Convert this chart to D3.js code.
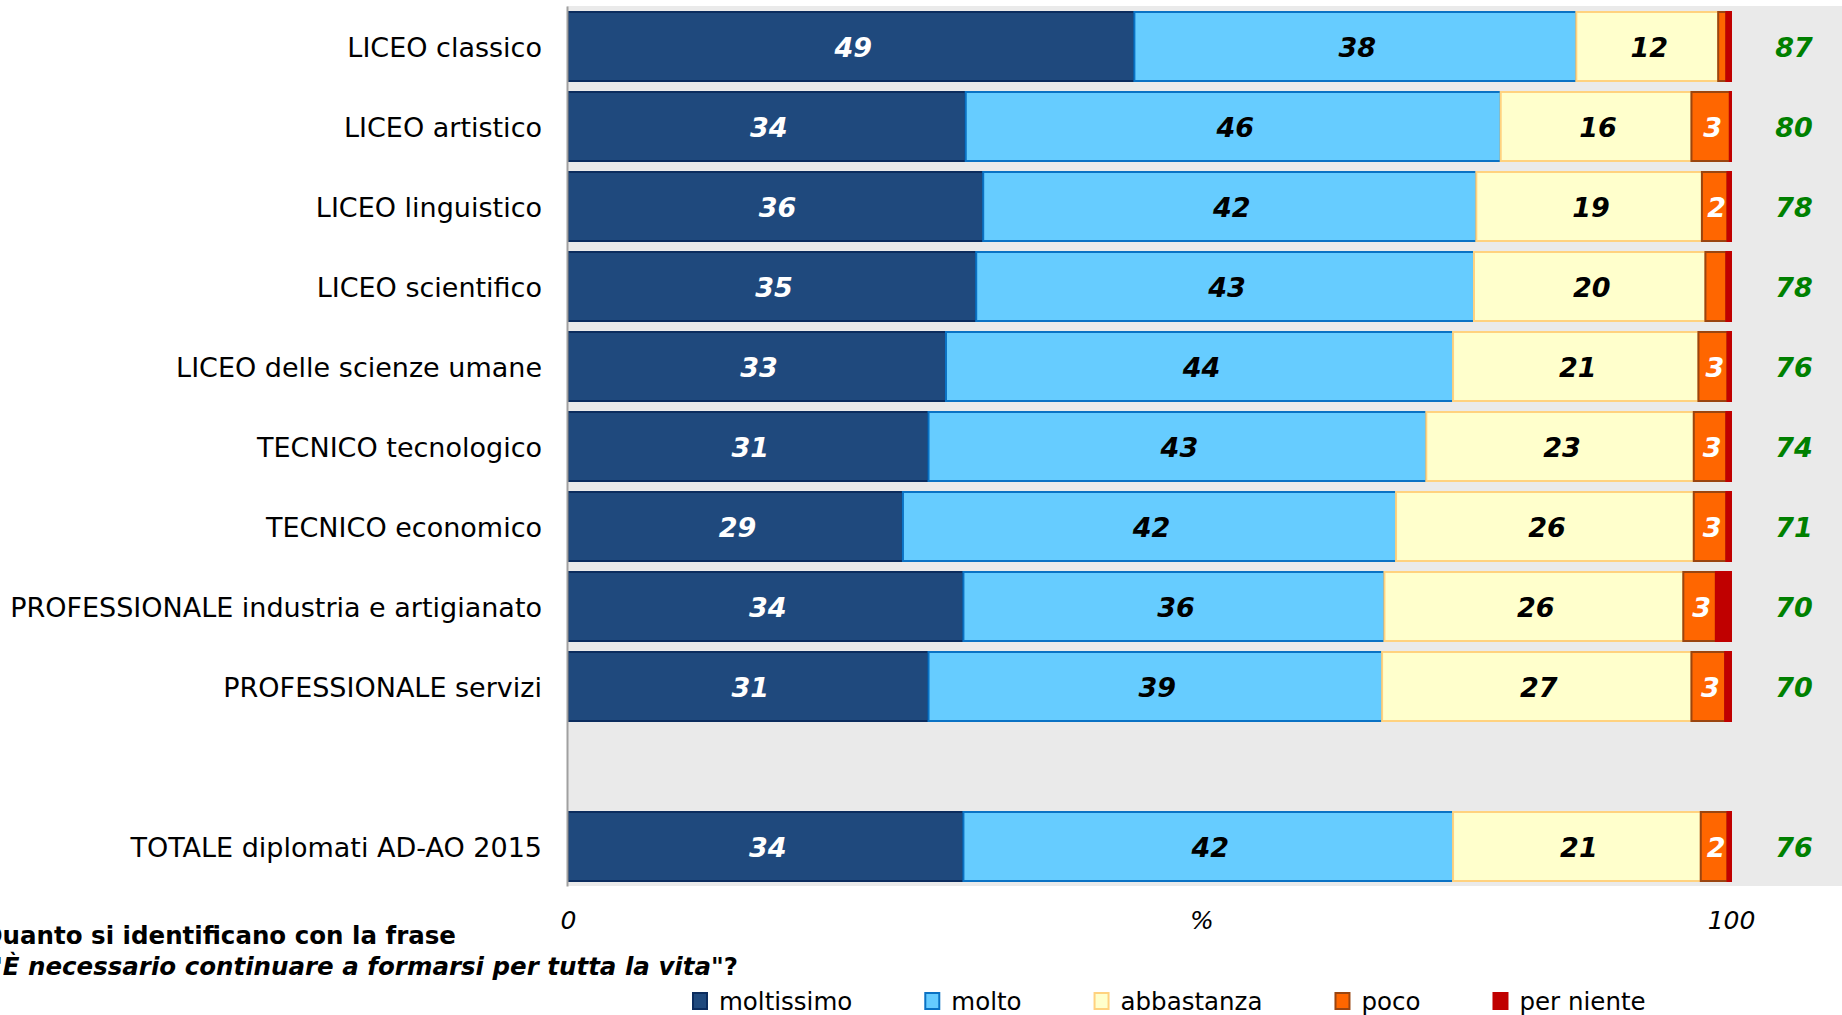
<!DOCTYPE html>
<html>
<head>
<meta charset="utf-8">
<script src="https://cdn.jsdelivr.net/npm/d3@7"></script>
<style>
  html, body { margin: 0; padding: 0; background: #ffffff; }
  svg { display: block; }
  text { font-family: "DejaVu Sans", Verdana, sans-serif; }
</style>
</head>
<body>
<svg id="chart" width="1842" height="1015"></svg>
<script>
// ---- data ----
const categories = [
  "LICEO classico",
  "LICEO artistico",
  "LICEO linguistico",
  "LICEO scientifico",
  "LICEO delle scienze umane",
  "TECNICO tecnologico",
  "TECNICO economico",
  "PROFESSIONALE industria e artigianato",
  "PROFESSIONALE servizi",
  "TOTALE diplomati AD-AO 2015"
];
const seriesNames = ["moltissimo", "molto", "abbastanza", "poco", "per niente"];
const moltissimo = [48.7, 34.2, 35.7, 35.1, 32.5, 31.0, 28.8, 34.0, 31.0, 34.0];
const molto      = [38.0, 46.0, 42.4, 42.8, 43.6, 42.8, 42.4, 36.2, 39.0, 42.1];
const abbastanza = [12.2, 16.4, 19.4, 19.9, 21.1, 23.0, 25.6, 25.7, 26.6, 21.3];
const poco       = [0.7, 3.3, 2.2, 1.8, 2.5, 2.8, 2.8, 2.8, 2.9, 2.3];
const perNiente  = [0.4, 0.1, 0.3, 0.4, 0.3, 0.4, 0.4, 1.3, 0.5, 0.3];
const totals     = [87, 80, 78, 78, 76, 74, 71, 70, 70, 76];
const xTicks = [0, 100];
const axisTitle = "%";
const titleLine1 = "Quanto si identificano con la frase";
const titleLine2 = "\"È necessario continuare a formarsi per tutta la vita";
const titleLine2End = "\"?";

// ---- styles ----
const fills   = ["#1F497D", "#66CCFF", "#FFFFCC", "#FF6600", "#C00000"];
const strokes = ["#0B2C5E", "#0A72C4", "#FFD27F", "#9A4510", "#C00000"];
const labelColors = ["#ffffff", "#000000", "#000000", "#ffffff", "#ffffff"];

const svg = d3.select("#chart");

const rows = categories.map((c, i) => ({
  cat: c,
  "moltissimo": moltissimo[i],
  "molto": molto[i],
  "abbastanza": abbastanza[i],
  "poco": poco[i],
  "per niente": perNiente[i],
  total: totals[i]
}));

const GAP = "__gap__";
const domain = categories.slice(0, 9).concat([GAP], categories.slice(9));

const plotLeft = 567, plotTop = 6, plotBottom = 886;
const x = d3.scaleLinear().domain([0, 100]).range([568, 1731]);
const y = d3.scaleBand().domain(domain).range([plotTop, plotBottom])
  .paddingInner(0.125).paddingOuter(0.0625);

// background panel
svg.append("rect")
  .attr("x", plotLeft).attr("y", plotTop)
  .attr("width", 1842 - plotLeft).attr("height", plotBottom - plotTop)
  .attr("fill", "#EAEAEA");

const stack = d3.stack().keys(seriesNames);
const stacked = stack(rows);

const g = svg.append("g");
stacked.forEach((layer, si) => {
  const lg = g.append("g");
  lg.selectAll("rect").data(layer).join("rect")
    .attr("x", d => x(d[0]))
    .attr("y", d => y(d.data.cat) + 1)
    .attr("width", d => Math.max(0, x(d[1]) - x(d[0])))
    .attr("height", y.bandwidth() - 1)
    .attr("fill", fills[si])
    .attr("stroke", strokes[si])
    .attr("stroke-width", 2);
});

// segment labels
stacked.forEach((layer, si) => {
  g.append("g").selectAll("text")
    .data(layer.filter(d => (d[1] - d[0]) >= 2))
    .join("text")
    .attr("x", d => (x(d[0]) + x(d[1])) / 2 + 2)
    .attr("y", d => y(d.data.cat) + y.bandwidth() / 2 + 1)
    .attr("text-anchor", "middle")
    .attr("dominant-baseline", "central")
    .attr("font-size", 27)
    .attr("font-weight", "bold")
    .attr("font-style", "italic")
    .attr("fill", labelColors[si])
    .text(d => Math.round(d[1] - d[0]));
});

// totals (green)
g.append("g").selectAll("text").data(rows).join("text")
  .attr("x", 1794)
  .attr("y", d => y(d.cat) + y.bandwidth() / 2 + 1)
  .attr("text-anchor", "middle")
  .attr("dominant-baseline", "central")
  .attr("font-size", 27)
  .attr("font-weight", "bold")
  .attr("font-style", "italic")
  .attr("fill", "#008000")
  .text(d => d.total);

// left axis (category labels)
const yAxis = d3.axisLeft(y).tickSize(0).tickPadding(25)
  .tickFormat(d => d === GAP ? "" : d);
const ya = svg.append("g").attr("transform", `translate(${plotLeft},0)`).call(yAxis);
ya.select(".domain").attr("stroke", "#A0A0A0").attr("stroke-width", 2);
ya.selectAll("text")
  .attr("dy", "0.42em")
  .attr("font-family", "'DejaVu Sans', Verdana, sans-serif")
  .attr("font-size", 27)
  .attr("fill", "#000");

// bottom axis ticks
const xAxis = d3.axisBottom(x).tickValues(xTicks).tickSize(0).tickPadding(0);
const xa = svg.append("g").attr("transform", `translate(0,${920})`).call(xAxis);
xa.select(".domain").remove();
xa.selectAll("text")
  .attr("dy", "0.35em")
  .attr("font-family", "'DejaVu Sans', Verdana, sans-serif")
  .attr("font-size", 25)
  .attr("font-style", "italic")
  .attr("fill", "#000");
svg.append("text")
  .attr("x", 1202).attr("y", 920).attr("dy", "0.35em")
  .attr("text-anchor", "middle")
  .attr("font-size", 25).attr("font-style", "italic")
  .text(axisTitle);

// title (bottom-left, clipped on the left as in the original)
svg.append("text")
  .attr("x", 456).attr("y", 944)
  .attr("text-anchor", "end")
  .attr("font-size", 24.5).attr("font-weight", "bold")
  .text(titleLine1);
const t2 = svg.append("text")
  .attr("x", 738).attr("y", 975)
  .attr("text-anchor", "end")
  .attr("font-size", 24.5).attr("font-weight", "bold");
t2.append("tspan").attr("font-style", "italic").text(titleLine2);
t2.append("tspan").text(titleLine2End);

// legend
const legend = svg.append("g");
let lx = 693;
seriesNames.forEach((name, i) => {
  legend.append("rect")
    .attr("x", lx).attr("y", 993)
    .attr("width", 14).attr("height", 16)
    .attr("fill", fills[i]).attr("stroke", strokes[i]).attr("stroke-width", 2);
  const t = legend.append("text")
    .attr("x", lx + 26).attr("y", 1001).attr("dy", "0.35em")
    .attr("font-size", 24.5)
    .text(name);
  lx += 26 + t.node().getComputedTextLength() + 73;
});
</script>
</body>
</html>
